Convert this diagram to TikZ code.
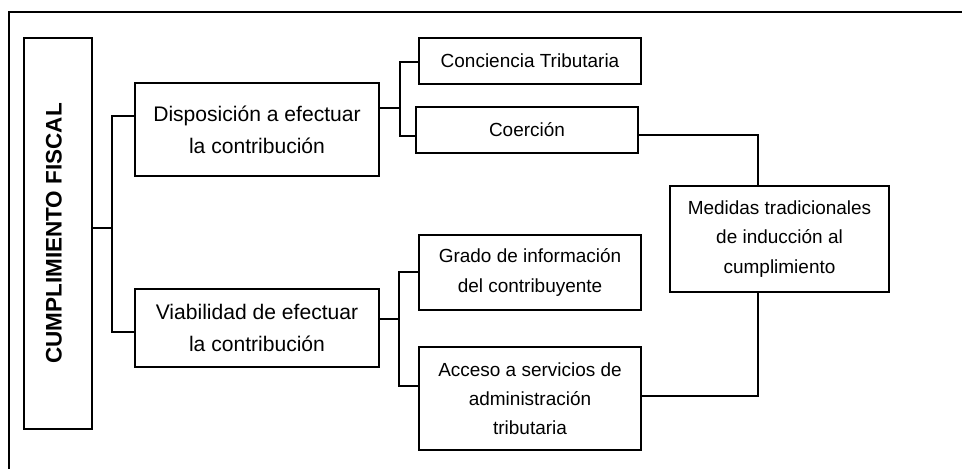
\documentclass[tikz,border=0pt]{standalone}
\usepackage{fontspec}
\usepackage{graphicx}
\setmainfont{Liberation Sans}
\begin{document}
\begin{tikzpicture}[x=0.02cm, y=-0.02cm,
  box/.style={draw, line width=1pt, align=center, inner sep=0pt,
    font=\fontsize{10.8}{16.6}\selectfont},
  bigbox/.style={box, font=\fontsize{12}{18.2}\selectfont},
  link/.style={line width=0.9pt}]
\useasboundingbox (0,0) rectangle (962,469);
\draw[line width=0.9pt] (9,469) -- (9,12) -- (962,12);

\node[box, minimum width=1.36cm, minimum height=7.82cm] (cf) at (58,233.5)
  {\hspace*{-0.16cm}\rotatebox{90}{\fontsize{12.8}{14}\selectfont\bfseries CUMPLIMIENTO FISCAL}};
\node[bigbox, minimum width=4.88cm, minimum height=1.86cm] (disp) at (257,129.5)
  {Disposición a efectuar\\la contribución};
\node[bigbox, minimum width=4.88cm, minimum height=1.56cm] (viab) at (257,328)
  {Viabilidad de efectuar\\la contribución};
\node[box, minimum width=4.44cm, minimum height=0.92cm] (conc) at (530,61)
  {Conciencia Tributaria};
\node[box, minimum width=4.44cm, minimum height=0.92cm] (coer) at (527,130)
  {Coerción};
\node[box, minimum width=4.44cm, minimum height=1.5cm] (grado) at (530,272.5)
  {Grado de información\\del contribuyente};
\node[box, minimum width=4.44cm, minimum height=2.06cm] (acc) at (530,398.5)
  {Acceso a servicios de\\administración\\tributaria};
\node[box, minimum width=4.38cm, minimum height=2.12cm] (med) at (779.5,239)
  {Medidas tradicionales\\de inducción al\\cumplimiento};

\coordinate (j1) at (112,228);
\coordinate (j2) at (400,108);
\coordinate (j3) at (399,319);
\coordinate (m) at (758,0);

\draw[link] (cf.east |- j1) -- (j1);
\draw[link] (disp.west |- 0,116) -| (j1) |- (viab.west |- 0,332);
\draw[link] (disp.east |- j2) -- (j2);
\draw[link] (conc.west |- 0,62) -| (j2) |- (coer.west |- 0,136);
\draw[link] (viab.east |- j3) -- (j3);
\draw[link] (grado.west |- 0,272) -| (j3) |- (acc.west |- 0,386);
\draw[link] (coer.east |- 0,135) -| (med.north -| m);
\draw[link] (med.south -| m) |- (acc.east |- 0,396);
\end{tikzpicture}
\end{document}
